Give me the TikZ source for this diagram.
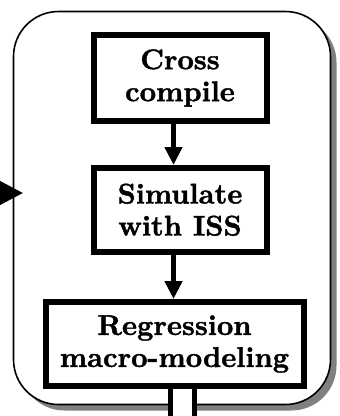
\documentclass[tikz,border=0pt]{standalone}
\usepackage{fontspec}
\usetikzlibrary{arrows.meta,shadows}
% heavier bold face for the stage labels
\newfontfamily\heavy{lmroman10-bold}[Extension=.otf, FakeBold=1.4]
\begin{document}
\begin{tikzpicture}[x=1pt,y=-1pt,
  frame/.style={draw, line width=1.6pt, fill=white, rounded corners=45pt,
    drop shadow={shadow xshift=6pt, shadow yshift=-6pt, fill=black!50, opacity=1}},
  stage/.style={draw, line width=6pt, fill=white, align=center, inner sep=0pt,
    font=\heavy\fontsize{28.5}{32}\selectfont},
  flow/.style={line width=4.5pt, -{Triangle[length=18pt,width=17pt]}},
  inflow/.style={line width=4.5pt, -{Triangle[length=24pt,width=24pt]}},
  stubline/.style={line width=5pt}
]
\useasboundingbox (0,0) rectangle (340,416);
\clip (0,0) rectangle (340,416);

% enclosing rounded frame with its shadow
\node[frame, minimum width=317pt, minimum height=393pt] (frame) at (172,208) {};

% the three stages
\node[stage, minimum width=173pt, minimum height=86pt] (cross) at (180,78) {Cross\\compile};
\node[stage, minimum width=173pt, minimum height=83.5pt] (sim) at (180,209.75) {Simulate\\with ISS};
\node[stage, minimum width=258pt, minimum height=84pt] (reg) at (174.5,344) {Regression\\macro-modeling};

% flow between the stages
\coordinate (ax) at (173.5,0);
\draw[flow] (cross.south -| ax) -- (sim.north -| ax);
\draw[flow] (sim.south -| ax) -- (reg.north -| ax);

% input arrow entering from the left
\coordinate (src) at (-10,193);
\coordinate (entry) at (23,193);
\draw[inflow] (src) -- (entry);

% output channel leaving at the bottom
\coordinate (stubL) at (170.5,422);
\coordinate (stubR) at (194.5,422);
\fill[white] (reg.south -| stubL) rectangle (stubR);
\draw[stubline] (reg.south -| stubL) -- (stubL);
\draw[stubline] (reg.south -| stubR) -- (stubR);
\end{tikzpicture}
\end{document}
